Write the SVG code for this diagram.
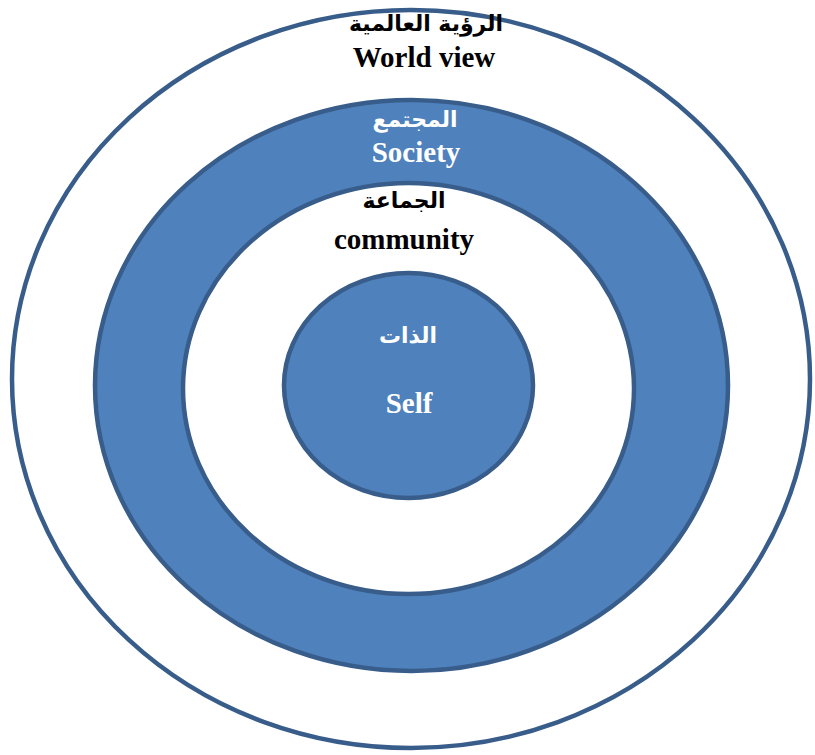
<svg xmlns="http://www.w3.org/2000/svg" width="815" height="755" viewBox="0 0 815 755">
<style>
.ring{stroke:#385D8A;stroke-width:4.5}
.blue{fill:#4F81BD}
.white{fill:#FFFFFF}
.t{font-family:"Liberation Serif","DejaVu Sans",serif;font-weight:bold;text-anchor:middle}
.en{font-size:29px}
.ar{font-size:22px;font-family:"DejaVu Sans","Liberation Serif",sans-serif}
.dk{fill:#000000}
.lt{fill:#FFFFFF}
</style>
<rect width="815" height="755" fill="#FFFFFF"/>
<g id="worldview">
<ellipse class="ring white" cx="411" cy="379" rx="399" ry="369"/>
</g>
<g id="society">
<ellipse class="ring blue" cx="411.5" cy="385.5" rx="316.5" ry="285.5"/>
</g>
<g id="community">
<ellipse class="ring white" cx="408.5" cy="388.5" rx="225.5" ry="205.5"/>
</g>
<g id="self">
<ellipse class="ring blue" cx="408.5" cy="385.5" rx="124.5" ry="112.5"/>
</g>
<g id="labels">
<text class="t ar dk" x="426" y="31" direction="rtl">الرؤية العالمية</text>
<text class="t en dk" x="424" y="67">World view</text>
<text class="t ar lt" x="415" y="127" direction="rtl">المجتمع</text>
<text class="t en lt" x="416" y="162">Society</text>
<text class="t ar dk" x="404" y="208" direction="rtl">الجماعة</text>
<text class="t en dk" x="404" y="249">community</text>
<text class="t ar lt" x="408" y="343" direction="rtl">الذات</text>
<text class="t en lt" x="409" y="413">Self</text>
</g>
</svg>
